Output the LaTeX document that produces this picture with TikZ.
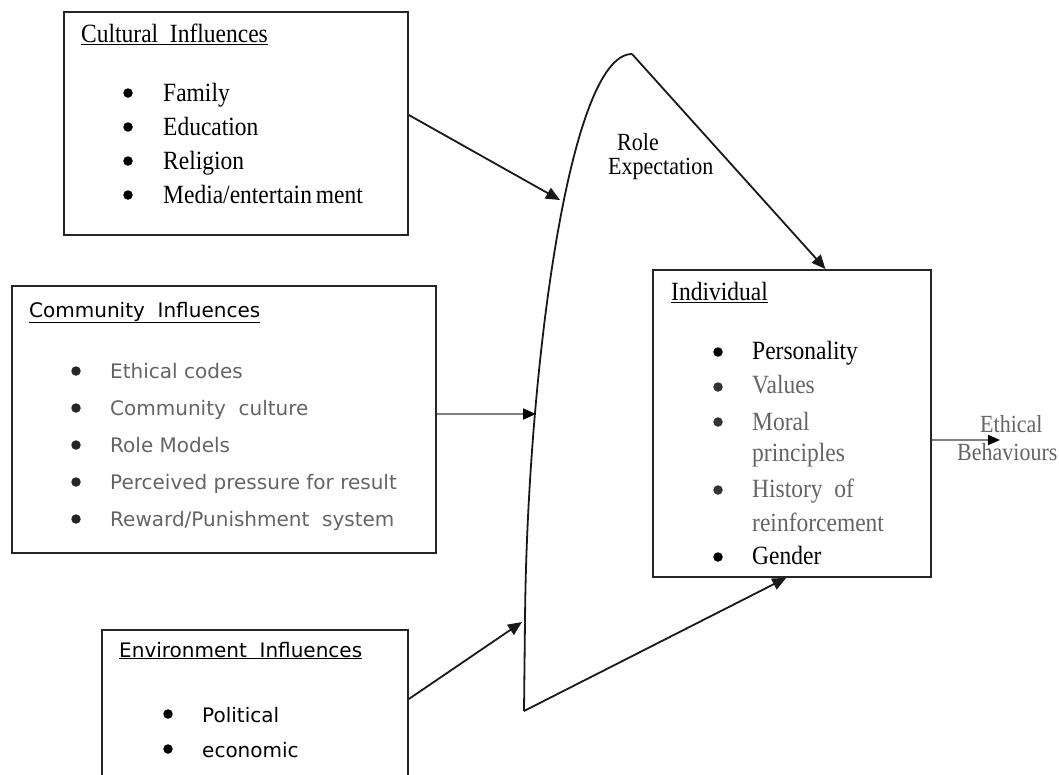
\documentclass[tikz,border=0pt]{standalone}
\usepackage{fontspec}
\setmainfont{Liberation Serif}
\newfontfamily\sansf{DejaVu Sans}
\usetikzlibrary{arrows.meta,calc}
\definecolor{grtxt}{RGB}{100,100,100}
\newcommand{\st}[1]{\scalebox{1}[1.12]{#1}}
\begin{document}
\begin{tikzpicture}[x=1pt,y=-1pt,
  box/.style={draw=black!85, line width=1.8pt, anchor=north west, inner sep=0pt},
  dot/.style={circle, fill=black, inner sep=0pt, minimum size=9.5pt},
  ser/.style={font=\fontsize{23.5}{28}\selectfont, anchor=base west, inner sep=0pt},
  san/.style={font=\sansf\fontsize{20}{24}\selectfont, anchor=base west, inner sep=0pt},
  arr/.style={line width=1.8pt, draw=black!90, -{Triangle[length=14pt,width=12pt]}},
  plain/.style={line width=1.8pt, draw=black!90}]
\useasboundingbox (0,0) rectangle (1059,774);
\clip (0,0) rectangle (1059,774);

% ---------- Cultural box ----------
\node[box, minimum width=344pt, minimum height=223pt] (cult) at (63,11) {};
\node[ser] (ct) at (81,42) {\st{\underline{Cultural\ \ Influences}}};
\foreach \y/\t [count=\i] in {101/Family,135/Education,169/Religion,203/Media\slash entertain\,ment}{
  \node[dot] (cb\i) at (128,\y-8) {};
  \node[ser] (ci\i) at (163,\y) {\st{\t}};
}

% ---------- Community box ----------
\node[box, minimum width=424pt, minimum height=267pt] (comm) at (11,285) {};
\node[san] (cmt) at (29,317) {\underline{Community\ \ Influences}};
\foreach \y/\t [count=\i] in {378/Ethical codes,415/Community\ \ culture,452/Role Models,489/Perceived pressure for result,526/Reward\slash Punishment\ \ system}{
  \node[dot, fill=black!85] (mb\i) at (76,\y-7) {};
  \node[san, text=grtxt] (mi\i) at (110,\y) {\t};
}

% ---------- Environment box ----------
\node[box, minimum width=306pt, minimum height=200pt] (env) at (101,629) {};
\node[san] (et) at (119,657) {\underline{Environment\ \ Influences}};
\node[dot] (eb1) at (168,714) {};
\node[san] (ei1) at (202,722) {Political};
\node[dot] (eb2) at (168,749) {};
\node[san] (ei2) at (202,757) {economic};

% ---------- Individual box ----------
\node[box, minimum width=278pt, minimum height=307pt] (ind) at (652,269) {};
\node[ser] (it) at (671,300) {\st{\underline{Individual}}};
\node[dot] (ib1) at (718,352) {};
\node[ser] (ii1) at (752,359) {\st{Personality}};
\node[dot, fill=black!80] (ib2) at (718,387) {};
\node[ser, text=grtxt] (ii2) at (752,393) {\st{Values}};
\node[dot, fill=black!80] (ib3) at (718,422) {};
\node[ser, text=grtxt] (ii3) at (752,430) {\st{Moral}};
\node[ser, text=grtxt] (ii3b) at (752,461) {\st{principles}};
\node[dot, fill=black!80] (ib4) at (718,490) {};
\node[ser, text=grtxt] (ii4) at (752,497) {\st{History\ \ of}};
\node[ser, text=grtxt] (ii4b) at (752,531) {\st{reinforcement}};
\node[dot] (ib5) at (718,557) {};
\node[ser] (ii5) at (752,564) {\st{Gender}};

% ---------- Labels ----------
\node[ser, font=\fontsize{22}{26}\selectfont] (role) at (617,150) {\st{Role}};
\node[ser, font=\fontsize{22}{26}\selectfont] (expect) at (608,174) {\st{Expectation}};
\node[ser, font=\fontsize{22}{26}\selectfont, text=grtxt] (eth) at (980,432) {\st{Ethical}};
\node[ser, font=\fontsize{22}{26}\selectfont, text=grtxt] (behav) at (957,460) {\st{Behaviours}};

% ---------- Role-expectation shape ----------
\coordinate (bot) at (524,711);
\coordinate (peak) at (632,54);
\coordinate (hitA) at (560,200);
\coordinate (hitB) at (536,414);
\coordinate (hitC) at (522,622);
\coordinate (ethend) at (1000,440);
\draw[plain] (bot) -- (525,620) .. controls (527,380) and (568,54) .. (peak);
\draw[arr] (peak) -- ($(ind.north west)!0.62!(ind.north east)$);
\draw[arr] (bot) -- ($(ind.south west)!0.48!(ind.south east)$);

% ---------- Connectors ----------
\draw[arr] ($(cult.north east)+(0,104)$) -- (hitA);
\draw[line width=1.8pt, draw=black!50, -{Triangle[length=13pt,width=11pt,color=black,fill=black]}] ($(comm.north east)+(0,129)$) -- (hitB);
\draw[arr] ($(env.north east)+(0,70)$) -- (hitC);
\draw[line width=1.4pt, draw=black!50, -{Triangle[length=12pt,width=10pt,color=black,fill=black]}] ($(ind.north east)+(0,171)$) -- (ethend);
\end{tikzpicture}
\end{document}
